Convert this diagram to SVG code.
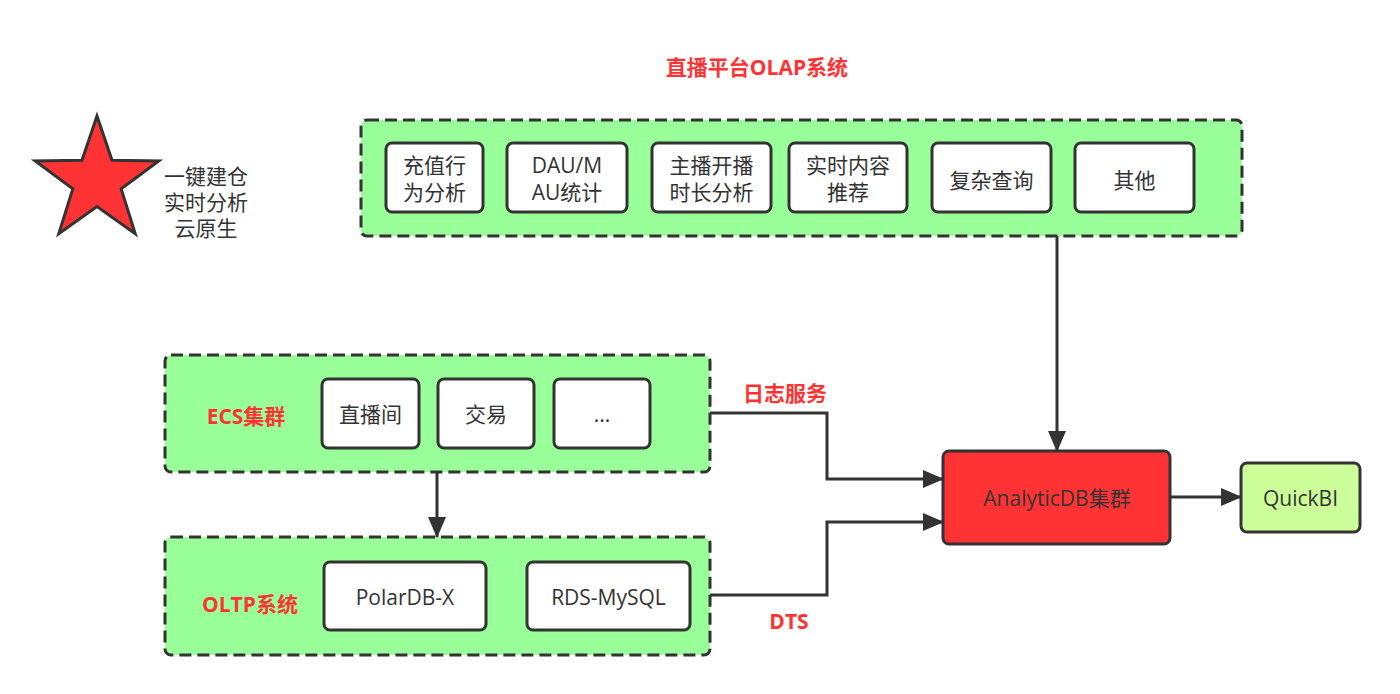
<svg xmlns="http://www.w3.org/2000/svg" width="1400" height="694" viewBox="0 0 1400 694">
<style>
text{font-family:"Open Sans","Noto Sans CJK SC",sans-serif;fill:#333;font-size:21px;text-anchor:middle;dominant-baseline:central}
.grp{fill:#99FF99;stroke:#333;stroke-width:3;stroke-dasharray:12 6}
.box{fill:#fff;stroke:#333;stroke-width:3}
.lbl{fill:#FF3333;font-weight:bold}
.con{fill:none;stroke:#333;stroke-width:3}
</style>
<defs>
<marker id="arr" markerWidth="22" markerHeight="18" refX="20" refY="9" orient="auto" markerUnits="userSpaceOnUse">
<path d="M0,0 L21,9 L0,18 Z" fill="#333"/>
</marker>
</defs>
<rect width="1400" height="694" fill="#fff"/>

<g id="title"><text class="lbl" x="757" y="67" font-size="22">直播平台OLAP系统</text></g>

<g id="star">
<polygon points="97,116 112.0,160.3 158.8,160.9 121.2,188.9 135.2,233.6 97,206.5 58.8,233.6 72.8,188.9 35.2,160.9 82.0,160.3" fill="#FF3333" stroke="#333" stroke-width="3" stroke-linejoin="miter"/>
<text x="206" y="176" font-size="20">一键建仓</text>
<text x="206" y="202" font-size="20">实时分析</text>
<text x="206" y="228" font-size="20">云原生</text>
</g>

<g id="olap">
<rect class="grp" x="361" y="120" width="881" height="116" rx="6"/>
<g id="n1"><rect class="box" x="386" y="143" width="97" height="69" rx="6"/><text x="434.5" y="165">充值行</text><text x="434.5" y="192">为分析</text></g>
<g id="n2"><rect class="box" x="507" y="143" width="120" height="69" rx="6"/><text x="567" y="165">DAU/M</text><text x="567" y="192">AU统计</text></g>
<g id="n3"><rect class="box" x="652" y="143" width="119" height="69" rx="6"/><text x="711.5" y="165">主播开播</text><text x="711.5" y="192">时长分析</text></g>
<g id="n4"><rect class="box" x="789" y="143" width="118" height="69" rx="6"/><text x="848" y="165">实时内容</text><text x="848" y="192">推荐</text></g>
<g id="n5"><rect class="box" x="932" y="143" width="119" height="69" rx="6"/><text x="991.5" y="180">复杂查询</text></g>
<g id="n6"><rect class="box" x="1075" y="143" width="119" height="69" rx="6"/><text x="1134.5" y="180">其他</text></g>
</g>

<g id="ecs">
<rect class="grp" x="165" y="355" width="545" height="117" rx="6"/>
<text class="lbl" x="246" y="416">ECS集群</text>
<g id="e1"><rect class="box" x="322" y="379" width="97" height="69" rx="6"/><text x="370.5" y="414">直播间</text></g>
<g id="e2"><rect class="box" x="438" y="379" width="96" height="69" rx="6"/><text x="486" y="414">交易</text></g>
<g id="e3"><rect class="box" x="554" y="379" width="96" height="69" rx="6"/><text x="602" y="414">...</text></g>
</g>

<g id="oltp">
<rect class="grp" x="165" y="537" width="545" height="118" rx="6"/>
<text class="lbl" x="250" y="604">OLTP系统</text>
<g id="o1"><rect class="box" x="324" y="562" width="162" height="68" rx="6"/><text x="405" y="597">PolarDB-X</text></g>
<g id="o2"><rect class="box" x="527" y="562" width="163" height="68" rx="6"/><text x="608.5" y="597">RDS-MySQL</text></g>
</g>

<g id="adb"><rect x="943" y="451" width="227" height="93" rx="6" fill="#FF3333" stroke="#333" stroke-width="3"/><text x="1057" y="498">AnalyticDB集群</text></g>
<g id="qbi"><rect x="1241" y="463" width="119" height="69" rx="6" fill="#CCFF99" stroke="#333" stroke-width="3"/><text x="1300.5" y="498">QuickBI</text></g>

<g id="connectors">
<path class="con" d="M1057,236 L1057,451" marker-end="url(#arr)"/>
<path class="con" d="M710,413 L827,413 L827,479 L943,479" marker-end="url(#arr)"/>
<path class="con" d="M710,595 L827,595 L827,522 L943,522" marker-end="url(#arr)"/>
<path class="con" d="M437,472 L437,537" marker-end="url(#arr)"/>
<path class="con" d="M1170,497 L1241,497" marker-end="url(#arr)"/>
<text class="lbl" x="785" y="393">日志服务</text>
<text class="lbl" x="789" y="621">DTS</text>
</g>
</svg>
